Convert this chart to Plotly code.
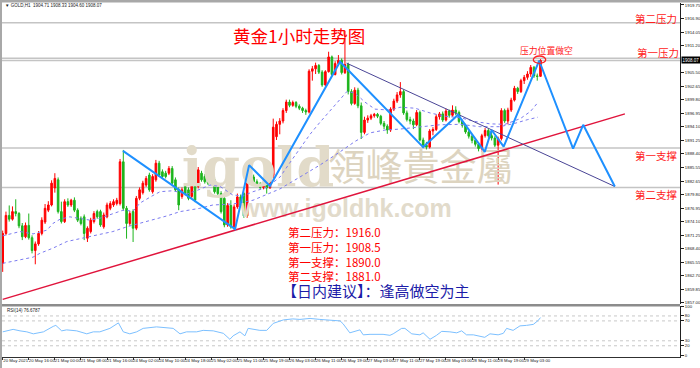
import plotly.graph_objects as go

# ---------------- data ----------------
bar_index = list(range(166))

opens = [1865.3, 1871.6, 1875.4, 1874.6, 1876.2, 1875.8, 1873.2, 1870.9, 1873.3, 1870.7,
         1868.0, 1869.4, 1871.6, 1874.0, 1876.5, 1877.6, 1881.2, 1882.9, 1876.2, 1874.1,
         1878.3, 1877.6, 1878.6, 1876.5, 1874.8, 1875.1, 1870.6, 1872.0, 1874.1, 1876.2,
         1876.2, 1873.0, 1875.1, 1876.9, 1877.6, 1877.9, 1877.9, 1886.7, 1876.9, 1873.7,
         1876.2, 1872.7, 1879.0, 1880.2, 1881.8, 1883.9, 1880.4, 1882.9, 1886.4, 1884.6,
         1884.3, 1884.3, 1885.3, 1882.9, 1880.8, 1879.4, 1881.5, 1880.8, 1879.4, 1882.5,
         1881.5, 1884.3, 1883.6, 1883.2, 1883.2, 1882.9, 1881.5, 1880.0, 1879.0, 1873.4,
         1877.5, 1873.0, 1877.2, 1879.3, 1880.0, 1875.3, 1885.8, 1883.5, 1882.5, 1882.0,
         1881.3, 1881.8, 1881.2, 1883.8, 1892.0, 1894.6, 1895.3, 1897.5, 1899.3, 1898.6,
         1899.2, 1898.4, 1898.0, 1897.5, 1897.2, 1905.8, 1906.3, 1907.0, 1905.6, 1902.9,
         1905.7, 1908.8, 1905.1, 1907.4, 1908.1, 1905.5, 1907.2, 1901.5, 1899.0, 1901.8,
         1898.5, 1892.9, 1895.5, 1895.9, 1896.4, 1896.7, 1896.3, 1894.8, 1894.2, 1893.4,
         1897.8, 1899.5, 1900.8, 1901.5, 1897.0, 1895.6, 1895.3, 1894.5, 1897.1, 1891.3,
         1890.2, 1889.8, 1893.2, 1893.5, 1896.2, 1896.8, 1895.5, 1897.4, 1896.5, 1897.6,
         1897.1, 1895.2, 1894.4, 1893.0, 1892.1, 1891.2, 1890.4, 1889.5, 1892.2, 1893.3,
         1892.2, 1891.7, 1890.2, 1891.6, 1897.5, 1895.3, 1897.6, 1899.7, 1902.2, 1901.5,
         1903.8, 1904.5, 1905.2, 1906.6, 1904.8, 1904.71]

highs = [1872.2, 1876.2, 1877.5, 1877.3, 1878.8, 1876.1, 1873.8, 1873.9, 1875.8, 1871.2,
         1869.9, 1872.1, 1875.0, 1877.8, 1878.4, 1882.8, 1884.3, 1883.4, 1878.3, 1878.8,
         1879.0, 1878.9, 1879.2, 1876.9, 1875.2, 1875.6, 1873.1, 1874.9, 1876.3, 1876.6,
         1876.6, 1876.0, 1878.1, 1878.4, 1878.8, 1879.1, 1887.3, 1889.2, 1877.4, 1876.3,
         1876.7, 1879.5, 1881.3, 1882.7, 1883.7, 1884.4, 1884.1, 1887.1, 1886.9, 1885.1,
         1884.8, 1885.8, 1885.8, 1883.4, 1881.3, 1881.3, 1882.0, 1881.3, 1883.7, 1883.0,
         1885.6, 1884.8, 1884.1, 1883.7, 1883.7, 1883.4, 1882.0, 1880.5, 1879.5, 1878.0,
         1878.6, 1877.7, 1880.0, 1879.8, 1880.4, 1886.3, 1886.2, 1884.0, 1883.0, 1882.4,
         1882.5, 1882.2, 1884.2, 1895.8, 1895.2, 1895.9, 1898.0, 1899.8, 1899.8, 1899.6,
         1899.5, 1898.8, 1898.3, 1897.9, 1906.2, 1906.9, 1907.6, 1907.3, 1906.0, 1906.0,
         1909.9, 1909.1, 1907.9, 1909.2, 1908.5, 1914.3, 1907.6, 1902.0, 1902.4, 1902.3,
         1899.2, 1896.2, 1896.5, 1896.8, 1897.0, 1897.0, 1896.6, 1895.3, 1894.6, 1898.2,
         1900.0, 1901.4, 1903.5, 1901.9, 1897.5, 1896.2, 1895.8, 1897.6, 1897.5, 1891.8,
         1890.9, 1893.6, 1894.0, 1896.7, 1897.2, 1897.3, 1897.9, 1897.7, 1898.6, 1898.4,
         1897.5, 1895.6, 1894.7, 1893.4, 1892.5, 1891.7, 1890.8, 1892.6, 1893.8, 1893.7,
         1893.4, 1892.1, 1892.0, 1898.0, 1897.9, 1898.1, 1900.2, 1902.7, 1902.5, 1904.2,
         1905.0, 1905.8, 1907.1, 1906.9, 1905.3, 1908.33]

lows = [1863.5, 1871.2, 1874.1, 1874.3, 1875.2, 1872.7, 1870.2, 1870.6, 1870.3, 1867.4,
        1865.1, 1869.0, 1871.2, 1873.6, 1876.1, 1877.3, 1880.2, 1875.8, 1873.7, 1873.8,
        1877.2, 1877.2, 1876.1, 1874.0, 1873.3, 1870.2, 1869.8, 1871.6, 1873.7, 1874.7,
        1873.0, 1872.6, 1874.8, 1876.5, 1877.2, 1877.5, 1877.5, 1876.4, 1870.5, 1873.2,
        1869.8, 1872.3, 1878.6, 1879.8, 1881.4, 1880.4, 1880.0, 1882.5, 1883.5, 1883.2,
        1883.2, 1883.9, 1881.8, 1880.4, 1876.5, 1878.9, 1879.6, 1878.6, 1879.0, 1878.2,
        1881.1, 1882.5, 1882.1, 1881.8, 1881.8, 1880.0, 1879.6, 1875.8, 1872.9, 1873.0,
        1872.6, 1872.4, 1876.8, 1877.1, 1874.9, 1874.9, 1883.1, 1882.1, 1881.6, 1880.9,
        1880.9, 1880.0, 1881.0, 1883.3, 1891.3, 1892.5, 1894.8, 1897.0, 1898.2, 1898.3,
        1898.0, 1897.6, 1897.0, 1896.6, 1896.9, 1903.8, 1905.2, 1905.2, 1902.5, 1902.6,
        1905.5, 1904.8, 1904.9, 1907.0, 1905.1, 1905.2, 1900.9, 1898.6, 1898.7, 1898.0,
        1891.5, 1892.5, 1894.9, 1895.5, 1896.0, 1895.9, 1894.4, 1893.6, 1892.6, 1893.0,
        1897.4, 1899.1, 1900.2, 1896.6, 1895.2, 1894.6, 1893.6, 1894.2, 1891.0, 1889.6,
        1889.3, 1889.5, 1892.3, 1893.2, 1895.6, 1895.1, 1895.2, 1896.0, 1896.2, 1896.5,
        1894.8, 1893.9, 1892.6, 1891.6, 1890.6, 1889.9, 1888.9, 1888.8, 1891.8, 1891.8,
        1891.2, 1889.8, 1881.9, 1891.2, 1894.9, 1894.6, 1897.2, 1899.4, 1901.0, 1901.2,
        1903.1, 1904.0, 1904.6, 1904.4, 1903.8, 1904.60]

closes = [1871.6, 1875.4, 1874.6, 1876.2, 1875.8, 1873.2, 1870.9, 1873.3, 1870.7, 1868.0,
          1869.4, 1871.6, 1874.4, 1876.9, 1877.6, 1882.2, 1883.2, 1876.2, 1874.1, 1878.3,
          1877.6, 1878.6, 1876.5, 1874.4, 1873.7, 1871.6, 1872.7, 1874.4, 1875.8, 1875.1,
          1873.4, 1875.5, 1877.6, 1877.9, 1878.3, 1878.6, 1886.7, 1876.9, 1873.7, 1875.8,
          1872.7, 1879.0, 1880.8, 1882.2, 1883.2, 1880.8, 1883.6, 1886.4, 1883.9, 1883.6,
          1883.6, 1885.3, 1882.2, 1880.8, 1877.6, 1880.8, 1880.0, 1879.0, 1883.2, 1878.6,
          1885.0, 1882.9, 1882.5, 1882.2, 1882.2, 1880.4, 1880.0, 1876.2, 1873.4, 1877.5,
          1873.0, 1877.2, 1879.3, 1877.5, 1875.3, 1885.8, 1883.5, 1882.5, 1882.0, 1881.3,
          1882.0, 1881.2, 1883.8, 1894.0, 1894.6, 1895.3, 1897.5, 1899.3, 1898.6, 1899.2,
          1898.4, 1898.0, 1897.5, 1897.2, 1905.8, 1906.3, 1907.0, 1905.6, 1902.9, 1905.7,
          1908.8, 1905.1, 1907.4, 1908.1, 1905.5, 1907.2, 1901.5, 1899.0, 1901.8, 1898.5,
          1892.9, 1895.5, 1895.9, 1896.4, 1896.7, 1896.3, 1894.8, 1894.2, 1893.4, 1897.8,
          1899.5, 1900.8, 1901.5, 1897.0, 1895.6, 1895.3, 1894.5, 1897.1, 1891.3, 1890.2,
          1889.8, 1893.2, 1893.5, 1896.2, 1896.8, 1895.5, 1897.4, 1896.5, 1897.6, 1897.1,
          1895.2, 1894.4, 1893.0, 1892.1, 1891.2, 1890.4, 1889.5, 1892.2, 1893.3, 1892.2,
          1891.7, 1890.2, 1891.6, 1897.5, 1895.3, 1897.6, 1899.7, 1902.2, 1901.5, 1903.8,
          1904.5, 1905.2, 1906.6, 1904.8, 1904.7, 1908.07]

# moving averages (dotted), read at points
ma_fast_bar = [0, 5.3, 9.3, 13.6, 15.4, 17.6, 20.6, 23.7, 26.8, 29.8, 33.8, 36.9, 40, 42.1, 46.1,
               48.3, 52.2, 56.5, 60.5, 63.6, 66.7, 70.6, 73.7, 76.8, 81, 85.1, 88.1, 91.2, 94.3,
               97.3, 100.4, 103.5, 105.6, 108.1, 111.1, 114.2, 118.8, 121.9, 126.5, 131.1,
               135.7, 140.3, 144.9, 149.5, 154.1, 158.8, 161.9, 164.2]
ma_fast_val = [1871.1, 1872.0, 1871.5, 1872.3, 1873.7, 1874.6, 1875.1, 1874.7, 1874.4, 1874.8,
               1875.8, 1876.5, 1876.3, 1878.0, 1879.6, 1880.4, 1880.6, 1879.9, 1880.9, 1881.8,
               1881.5, 1879.7, 1879.5, 1880.4, 1881.3, 1883.5, 1886.5, 1889.5, 1892.5, 1895.0,
               1897.5, 1900.0, 1901.5, 1901.2, 1899.3, 1897.8, 1897.6, 1898.2, 1898.0, 1897.0,
               1896.3, 1896.0, 1895.2, 1894.7, 1894.6, 1895.8, 1897.3, 1899.2]
ma_slow_bar = [0, 3.2, 9.3, 11.4, 15.4, 19.7, 23.7, 29.8, 33.8, 38.1, 42.1, 46.1, 50.4, 54.4,
               60.5, 64.5, 70.6, 76.8, 81, 85.1, 91.2, 97.3, 103.5, 108.1, 112.7, 117.3, 121.9,
               128, 134.1, 140.3, 146.4, 152.5, 157.1, 161.1, 164.2]
ma_slow_val = [1865.3, 1865.8, 1866.6, 1867.4, 1868.5, 1869.9, 1870.5, 1871.3, 1872.0, 1873.0,
               1873.7, 1874.4, 1875.3, 1876.2, 1876.9, 1877.6, 1877.8, 1878.6, 1879.8, 1881.0,
               1883.5, 1886.0, 1888.8, 1891.0, 1892.8, 1893.4, 1893.6, 1894.0, 1894.5, 1894.6,
               1894.1, 1894.1, 1894.8, 1895.6, 1896.1]

# RSI(14)
rsi_bar = [0, 3.2, 5.3, 7.4, 9.4, 12.5, 15.5, 16.3, 18.1, 19.6, 22.7, 25.8, 27.8, 29.8, 32.9,
           35.5, 37, 39, 41.1, 43.1, 47.2, 50.3, 52.3, 54.4, 56.4, 59.5, 61.5, 64.6, 67.7,
           69.7, 70.7, 72.8, 74.3, 75.3, 76.9, 78.9, 81, 83, 86.1, 89, 91.2, 94.3, 97.3,
           99.4, 101.3, 103.5, 104.4, 106.5, 109.6, 110.6, 112.7, 116.7, 118.8, 119.8, 122.4,
           123.4, 125.5, 128, 129, 131.1, 133.1, 134.7, 137.2, 139.3, 140.8, 142.3, 144.4,
           146.9, 147.9, 149.5, 152, 153.6, 154.6, 156.6, 158.7, 160.7, 162.8, 164.3, 165]
rsi_val = [48, 53, 50, 48, 44, 48, 59, 61, 50, 52, 50, 44, 48, 48, 55,
           66, 48, 44, 48, 55, 58, 57, 55, 44, 48, 48, 51, 50, 45,
           33, 40, 48, 40, 55, 53, 51, 51, 65, 72, 74, 73, 75, 73,
           72, 71, 70, 64.5, 46, 52, 42, 43, 43, 41, 44, 55,
           55, 44, 42, 46, 33, 41, 49, 48, 46, 50, 42, 42,
           38, 37, 44, 42, 45, 55, 51, 60, 61, 63, 71, 76.7]

# hand-drawn analysis objects
zig_bar = [36.9, 71.3, 75.6, 82.0, 103.5, 129.0, 139.7, 147.9, 150.0, 153.7, 164.6, 175.0, 178.1, 187.8]
zig_price = [1889.0, 1872.5, 1886.0, 1881.6, 1907.8, 1889.8, 1896.6, 1888.8, 1893.4, 1889.9,
             1908.0, 1889.5, 1894.5, 1881.5]
resist_bar = [105.5, 187.8]
resist_price = [1907.5, 1881.5]
support_bar = [0.0, 190.9]
support_price = [1857.7, 1896.8]
level_prices = [1916.0, 1908.5, 1908.07, 1889.6, 1881.3]

price_ticks = [1857.00, 1859.85, 1862.70, 1865.55, 1868.40, 1871.25, 1874.10, 1876.95, 1879.80,
               1882.65, 1885.55, 1888.40, 1891.25, 1894.10, 1896.95, 1899.80, 1902.65, 1905.50,
               1911.20, 1914.05, 1916.90, 1919.75]
rsi_ticks = [0, 20, 30, 70, 80, 100]
rsi_levels = [20, 30, 70, 80]
time_tick_bars = [0, 8, 16, 24, 32, 40, 48, 56, 64, 72, 80, 88, 96, 104, 112, 120, 128, 136, 144, 152, 160]
time_tick_text = ["20 May 2021", "20 May 16:00", "21 May 00:00", "21 May 08:00", "21 May 16:00",
                  "24 May 02:00", "24 May 10:00", "24 May 18:00", "25 May 02:00", "25 May 11:00",
                  "25 May 19:00", "26 May 03:00", "26 May 11:00", "26 May 19:00", "27 May 03:00",
                  "27 May 11:00", "27 May 19:00", "28 May 03:00", "28 May 11:00", "28 May 19:00",
                  "29 May 03:00"]

# ---------------- layout geometry ----------------
W, H = 700, 368
ML, MR, MT, MB = 2, 20, 3, 11
PW, PH = W - ML - MR, H - MT - MB
X_RANGE = [-0.215, 207.8]
Y_RANGE = [1856.73, 1920.17]
RSI_RANGE = [-2.6, 100]
MAIN_TOP, MAIN_BOT = 3, 304
RSI_TOP = 306


def pxx(px):
    return (px - ML) / PW


def pxy(py):
    return (H - MB - py) / PH


def data_x(px):
    return X_RANGE[0] + (px - ML) / PW * (X_RANGE[1] - X_RANGE[0])


def data_y(py):
    return Y_RANGE[0] + (MAIN_BOT - py) / (MAIN_BOT - MAIN_TOP) * (Y_RANGE[1] - Y_RANGE[0])


CJK = "Noto Sans CJK SC"
SMALL = "Liberation Sans"

fig = go.Figure()

# watermark (below everything)
fig.add_trace(go.Scatter(
    x=[data_x(258), data_x(421), data_x(346)],
    y=[data_y(172), data_y(172), data_y(211)],
    mode="text",
    text=["<b>igold</b>", "領峰貴金屬", "<b>www.igoldhk.com</b>"],
    textfont=dict(family=["DejaVu Serif", CJK, "Liberation Sans"], size=[54, 37, 25],
                  color=["#e2dbc9", "#ddd4c0", "#e2dbcb"]),
    hoverinfo="skip", showlegend=False, xaxis="x", yaxis="y"))

# moving averages
fig.add_trace(go.Scatter(x=ma_fast_bar, y=ma_fast_val, mode="lines",
                         line=dict(color="#7b7bf0", width=1, dash="dot"),
                         hoverinfo="skip", showlegend=False))
fig.add_trace(go.Scatter(x=ma_slow_bar, y=ma_slow_val, mode="lines",
                         line=dict(color="#7b7bf0", width=1, dash="dot"),
                         hoverinfo="skip", showlegend=False))

# candles
fig.add_trace(go.Candlestick(
    x=bar_index, open=opens, high=highs, low=lows, close=closes,
    increasing=dict(line=dict(color="#ff0000", width=1), fillcolor="#ff0000"),
    decreasing=dict(line=dict(color="#1db51d", width=1), fillcolor="#1db51d"),
    whiskerwidth=0, hoverinfo="skip", showlegend=False))

# trend lines
fig.add_trace(go.Scatter(x=support_bar, y=support_price, mode="lines",
                         line=dict(color="#e0143c", width=1.5), hoverinfo="skip", showlegend=False))
fig.add_trace(go.Scatter(x=resist_bar, y=resist_price, mode="lines",
                         line=dict(color="#4a4596", width=1), hoverinfo="skip", showlegend=False))
fig.add_trace(go.Scatter(x=zig_bar, y=zig_price, mode="lines",
                         line=dict(color="#1e90ff", width=2), hoverinfo="skip", showlegend=False))

# RSI
fig.add_trace(go.Scatter(x=rsi_bar, y=rsi_val, mode="lines", xaxis="x2", yaxis="y2",
                         line=dict(color="#7cc0ff", width=1), hoverinfo="skip", showlegend=False))

shapes = []
for lv in level_prices:
    shapes.append(dict(type="line", xref="x domain", yref="y", x0=0, x1=1, y0=lv, y1=lv,
                       line=dict(color="#c4c4c4", width=1.5), layer="below"))
for lv in rsi_levels:
    shapes.append(dict(type="line", xref="x2 domain", yref="y2", x0=0, x1=1, y0=lv, y1=lv,
                       line=dict(color="#c8c8c8", width=1, dash="dot"), layer="below"))
# red circle around the top
shapes.append(dict(type="circle", xref="x", yref="y", x0=162.8, x1=166.6, y0=1907.46, y1=1909.0,
                   line=dict(color="#ff2020", width=1.3)))
# window frame
shapes.append(dict(type="rect", xref="paper", yref="paper", x0=pxx(0), x1=pxx(700),
                   y0=pxy(2.5), y1=pxy(0), fillcolor="#a8a8a8", line=dict(width=0)))
shapes.append(dict(type="rect", xref="paper", yref="paper", x0=pxx(0), x1=pxx(2),
                   y0=pxy(368), y1=pxy(0), fillcolor="#a8a8a8", line=dict(width=0)))
shapes.append(dict(type="rect", xref="paper", yref="paper", x0=pxx(2), x1=pxx(680),
                   y0=pxy(306.5), y1=pxy(304), fillcolor="#8c8c8c", line=dict(width=0)))

annotations = []


def note(text, px, py, size, color, family=CJK, xanchor="left", **kw):
    annotations.append(dict(text=text, x=pxx(px), y=pxy(py), xref="paper", yref="paper",
                            xanchor=xanchor, yanchor="middle", showarrow=False,
                            font=dict(family=family, size=size, color=color), **kw))


note("黄金1小时走势图", 231, 35, 17.5, "#ff0000")
note("第二压力", 633, 18, 10.5, "#ff2020")
note("第一压力", 635, 52, 10.5, "#ff2020")
note("第一支撑", 633, 156, 10.5, "#ff2020")
note("第二支撑", 633, 194, 10.5, "#ff2020")
note("压力位置做空", 546, 50.5, 8.8, "#ff2020", xanchor="center")
note("第二压力：1916.0", 286, 232, 11.5, "#ff0000")
note("第一压力：1908.5", 286, 246.7, 11.5, "#ff0000")
note("第一支撑：1890.0", 286, 261.5, 11.5, "#ff0000")
note("第二支撑：1881.0", 286, 276, 11.5, "#ff0000")
note("【日内建议】：逢高做空为主", 280, 290, 15, "#1c1ca8")
note("▼ GOLD,H1  1904.71 1908.33 1904.60 1908.07", 3, 5.5, 4.5, "#202020", family=SMALL)
note("RSI(14) 76.6787", 5, 310.5, 4.5, "#202020", family=SMALL)
# current price marker on the axis
annotations.append(dict(text="1908.07", x=1.0, y=1908.07, xref="paper", yref="y",
                        xanchor="left", yanchor="middle", showarrow=False, xshift=1,
                        bgcolor="#000000", borderpad=0.5,
                        font=dict(family=SMALL, size=4.5, color="#ffffff")))

fig.update_layout(
    width=W, height=H, margin=dict(l=ML, r=MR, t=MT, b=MB, autoexpand=False),
    paper_bgcolor="#ffffff", plot_bgcolor="#ffffff", template="none", showlegend=False,
    shapes=shapes, annotations=annotations,
    xaxis=dict(domain=[0, 1], range=X_RANGE, anchor="y", showticklabels=False, showgrid=False,
               zeroline=False, showline=False, ticks="", rangeslider=dict(visible=False),
               fixedrange=True),
    xaxis2=dict(domain=[0, 1], range=X_RANGE, anchor="y2", matches="x", showgrid=False,
                zeroline=False, showline=True, linecolor="#303030", linewidth=1,
                tickvals=time_tick_bars, ticktext=time_tick_text, ticks="outside", ticklen=2,
                tickcolor="#303030", tickwidth=1, tickangle=0, ticklabelshift=13,
                ticklabelstandoff=-3,
                tickfont=dict(family=SMALL, size=4.3, color="#202020"), automargin=False),
    yaxis=dict(domain=[pxy(MAIN_BOT), 1], range=Y_RANGE, side="right", anchor="x",
               showgrid=False, zeroline=False, showline=True, linecolor="#202020", linewidth=1,
               tickvals=price_ticks, ticktext=["%.2f" % v for v in price_ticks],
               ticks="outside", ticklen=3, tickcolor="#202020",
               tickfont=dict(family=SMALL, size=4.3, color="#202020"), automargin=False),
    yaxis2=dict(domain=[0, pxy(RSI_TOP)], range=RSI_RANGE, side="right", anchor="x2",
                showgrid=False, zeroline=False, showline=True, linecolor="#202020", linewidth=1,
                tickvals=rsi_ticks, ticktext=[str(v) for v in rsi_ticks],
                ticks="outside", ticklen=3, tickcolor="#202020",
                tickfont=dict(family=SMALL, size=4.3, color="#202020"), automargin=False),
)

fig.write_html("out.html")
